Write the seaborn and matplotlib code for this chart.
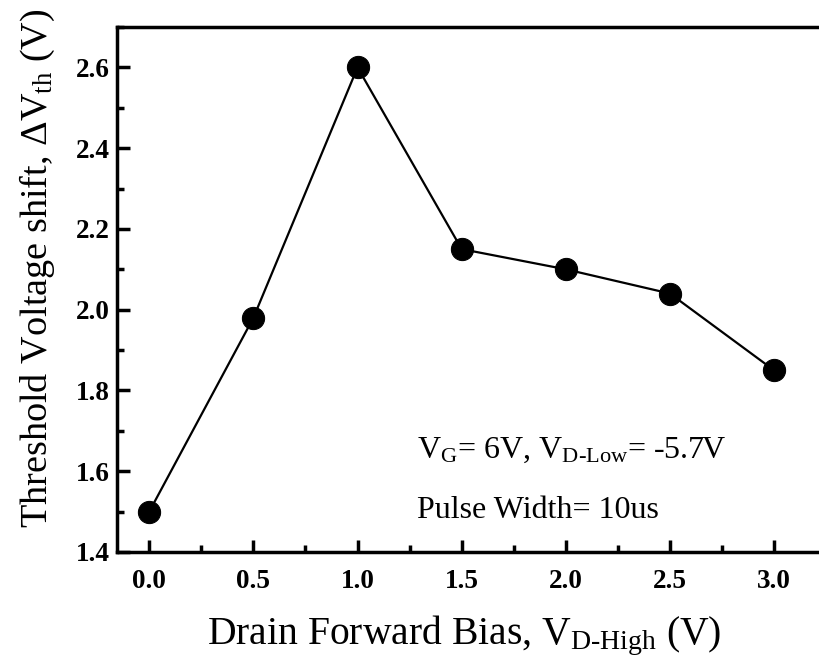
import numpy as np
import pandas as pd
import seaborn as sns
import matplotlib.pyplot as plt
from matplotlib.ticker import MultipleLocator

# data
bias = [0.0, 0.5, 1.0, 1.5, 2.0, 2.5, 3.0]
dvth = [1.50, 1.98, 2.60, 2.15, 2.10, 2.04, 1.85]

sns.set_style("ticks", {'axes.edgecolor': 'black', 'text.color': 'black',
                        'axes.labelcolor': 'black', 'xtick.color': 'black',
                        'ytick.color': 'black'})
plt.rcParams['font.family'] = ['Liberation Serif', 'DejaVu Serif']
plt.rcParams['mathtext.fontset'] = 'custom'
plt.rcParams['mathtext.rm'] = 'Liberation Serif'
plt.rcParams['mathtext.it'] = 'Liberation Serif'

df = pd.DataFrame({'bias': bias, 'dvth': dvth})

fig = plt.figure(figsize=(8.2, 6.72), dpi=100)
ax = fig.add_axes([0.1427, 0.1786, 0.865, 0.7812])
sns.lineplot(data=df, x='bias', y='dvth', ax=ax, color='black', lw=1.6,
             marker='o', markersize=16, markeredgecolor='black')

ax.set_xlim(-0.155, 3.251)
ax.set_ylim(1.4, 2.7)
ax.xaxis.set_minor_locator(MultipleLocator(0.25))
ax.yaxis.set_major_locator(MultipleLocator(0.2))
ax.yaxis.set_minor_locator(MultipleLocator(0.1))
ax.set_xticks(np.arange(0, 3.01, 0.5))
ax.set_xticklabels([f"{v:.1f}" for v in np.arange(0, 3.01, 0.5)])
ax.tick_params(which='major', direction='in', length=9, width=2.5, labelsize=19.5)
ax.tick_params(which='minor', direction='in', length=5, width=2.5)
ax.tick_params(axis='x', which='major', pad=12)
ax.tick_params(axis='y', which='major', pad=5)
for lab in ax.get_xticklabels() + ax.get_yticklabels():
    lab.set_fontweight('bold')
for sp in ax.spines.values():
    sp.set_linewidth(2.5)
    sp.set_visible(True)

ax.set_xlabel(r'Drain Forward Bias, V$_{\mathregular{D\text{-}High}}$ (V)', fontsize=28.5)
ax.set_ylabel(r'Threshold Voltage shift, $\Delta$V$_{\mathregular{th}}$ (V)', fontsize=27.5)
ax.xaxis.set_label_coords(0.49, -0.118)
ax.yaxis.set_label_coords(-0.085, 0.54)

ax.text(0.423, 0.18, r'V$_{\mathregular{G}}$= 6V, V$_{\mathregular{D\text{-}Low}}$= -5.7V',
        transform=ax.transAxes, fontsize=23)
ax.text(0.423, 0.065, 'Pulse Width= 10us', transform=ax.transAxes, fontsize=23)

fig.savefig('out.png', dpi=100)
